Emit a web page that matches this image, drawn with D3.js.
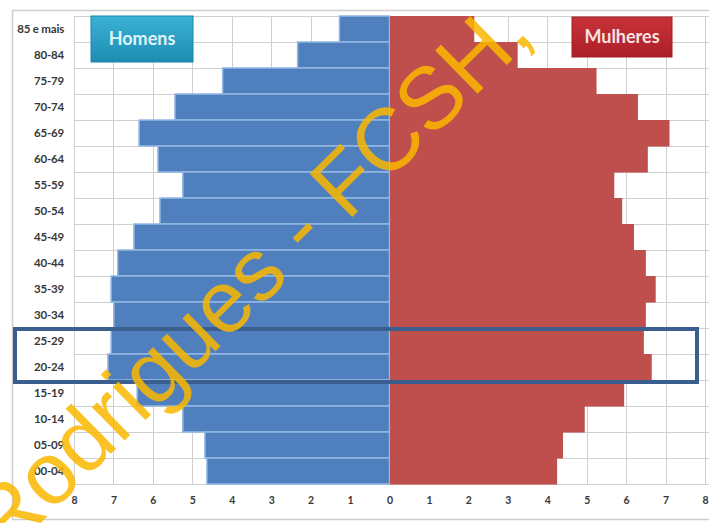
<!DOCTYPE html>
<html>
<head>
<meta charset="utf-8">
<script src="https://cdn.jsdelivr.net/npm/d3@7"></script>
<style>
  html, body { margin: 0; padding: 0; background: #ffffff; }
  svg { display: block; }
</style>
</head>
<body>
<svg id="chart" width="709" height="523"></svg>
<script>
// Age groups, from the oldest (top) to the youngest (bottom)
const ageGroups = ["85 e mais", "80-84", "75-79", "70-74", "65-69", "60-64", "55-59",
  "50-54", "45-49", "40-44", "35-39", "30-34", "25-29", "20-24", "15-19",
  "10-14", "05-09", "00-04"];

// Share of the population (%) per age group
const homens = [1.27, 2.33, 4.23, 5.44, 6.35, 5.87, 5.24, 5.82, 6.48, 6.89, 7.06,
  6.99, 7.06, 7.14, 6.4, 5.24, 4.68, 4.63];
const mulheres = [2.15, 3.25, 5.25, 6.3, 7.1, 6.55, 5.7, 5.9, 6.2, 6.5, 6.75,
  6.5, 6.45, 6.65, 5.95, 4.95, 4.4, 4.25];

// Axis ticks (men to the left, women to the right)
const tickValues = [-8, -7, -6, -5, -4, -3, -2, -1, 0, 1, 2, 3, 4, 5, 6, 7, 8];

// Groups framed by the highlight box
const highlighted = ["25-29", "20-24"];

const seriesNames = ["Homens", "Mulheres"];
const watermark = "Rodrigues - FCSH,";

const svg = d3.select("#chart");
const W = 709, H = 523;

const x = d3.scaleLinear().domain([-8, 8]).range([74, 705]);
const y = d3.scaleBand().domain(ageGroups).range([16, 484]).padding(0);

const labelFont = "Lato, 'Open Sans', 'DejaVu Sans', sans-serif";

// Outer chart frame
svg.append("rect")
  .attr("x", 12.5).attr("y", 10.5)
  .attr("width", W + 20).attr("height", 509)
  .attr("fill", "#ffffff")
  .attr("stroke", "#cdcdcd").attr("stroke-width", 1.5);

// Grid
const grid = svg.append("g").attr("stroke", "#cfcfcf").attr("stroke-width", 1);
grid.selectAll("line.v").data(tickValues).join("line")
  .attr("class", "v")
  .attr("x1", d => Math.round(x(d)) + 0.5).attr("x2", d => Math.round(x(d)) + 0.5)
  .attr("y1", y.range()[0]).attr("y2", y.range()[1]);
const bounds = ageGroups.map(g => y(g)).concat([y.range()[1]]);
grid.selectAll("line.h").data(bounds).join("line")
  .attr("class", "h")
  .attr("x1", x(-8)).attr("x2", W)
  .attr("y1", d => Math.round(d) + 0.5).attr("y2", d => Math.round(d) + 0.5);

// Bars
const rows = ageGroups.map((g, i) => ({ g, h: homens[i], m: mulheres[i] }));

svg.append("g").selectAll("rect").data(rows).join("rect")
  .attr("x", d => x(-d.h))
  .attr("y", d => y(d.g))
  .attr("width", d => x(0) - x(-d.h))
  .attr("height", y.bandwidth())
  .attr("fill", "#4f7fbd")
  .attr("stroke", "#93b8e4").attr("stroke-width", 1.5);

svg.append("g").selectAll("rect").data(rows).join("rect")
  .attr("x", x(0) + 0.5)
  .attr("y", d => y(d.g))
  .attr("width", d => x(d.m) - x(0) - 0.5)
  .attr("height", y.bandwidth() + 0.5)
  .attr("fill", "#bf4f4c");

// Age group labels
svg.append("g").selectAll("text").data(ageGroups).join("text")
  .attr("x", 64)
  .attr("y", d => y(d) + y.bandwidth() / 2 + 4)
  .attr("text-anchor", "end")
  .attr("font-family", labelFont)
  .attr("font-weight", 700)
  .attr("font-size", 11.5)
  .attr("letter-spacing", -0.2)
  .attr("fill", "#383838")
  .text(d => d);

// Bottom axis with absolute values
const axis = d3.axisBottom(x)
  .tickValues(tickValues)
  .tickFormat(d => Math.abs(d))
  .tickSize(0)
  .tickPadding(0);
const ax = svg.append("g").attr("transform", "translate(0,497)").call(axis);
ax.select(".domain").remove();
ax.selectAll("text")
  .attr("font-family", labelFont)
  .attr("font-weight", 700)
  .attr("font-size", 10.5)
  .attr("fill", "#383838")
  .attr("dy", "0.71em");

// Legend boxes
const defs = svg.append("defs");
const gBlue = defs.append("linearGradient").attr("id", "gradHomens")
  .attr("x1", 0).attr("y1", 0).attr("x2", 0).attr("y2", 1);
gBlue.append("stop").attr("offset", 0).attr("stop-color", "#3bb2d4");
gBlue.append("stop").attr("offset", 1).attr("stop-color", "#1d8cb3");
const gRed = defs.append("linearGradient").attr("id", "gradMulheres")
  .attr("x1", 0).attr("y1", 0).attr("x2", 0).attr("y2", 1);
gRed.append("stop").attr("offset", 0).attr("stop-color", "#c8323a");
gRed.append("stop").attr("offset", 1).attr("stop-color", "#ac1f27");

const legend = [
  { name: seriesNames[0], x: 91, y: 16, w: 102, h: 46, fill: "url(#gradHomens)", stroke: "#1a86ab", text: "#dff4fa" },
  { name: seriesNames[1], x: 572, y: 17, w: 100, h: 40, fill: "url(#gradMulheres)", stroke: "#a01c22", text: "#f8e2e2" }
];
const lg = svg.append("g").selectAll("g").data(legend).join("g");
lg.append("rect")
  .attr("x", d => d.x).attr("y", d => d.y)
  .attr("width", d => d.w).attr("height", d => d.h)
  .attr("fill", d => d.fill)
  .attr("stroke", d => d.stroke).attr("stroke-width", 1);
lg.append("text")
  .attr("x", d => d.x + d.w / 2)
  .attr("y", d => d.y + d.h / 2 + 6)
  .attr("text-anchor", "middle")
  .attr("font-family", labelFont)
  .attr("font-weight", 700)
  .attr("font-size", 18)
  .attr("fill", d => d.text)
  .text(d => d.name);

// Highlight box around the selected age groups
const hTop = y(highlighted[0]);
const hBottom = y(highlighted[highlighted.length - 1]) + y.bandwidth();
svg.append("rect")
  .attr("x", 15).attr("y", hTop + 1)
  .attr("width", 682).attr("height", hBottom - hTop + 1)
  .attr("fill", "none")
  .attr("stroke", "#3a5e8e").attr("stroke-width", 4);

// Diagonal credit text across the chart
const wm = svg.append("text")
  .attr("font-family", "'Liberation Sans', Arial, sans-serif")
  .attr("font-size", 88)
  .attr("fill", "#fbb800")
  .attr("opacity", 0.85)
  .text(watermark);
const angle = -44.5;
const rad = angle * Math.PI / 180;
const anchorOffset = wm.node().getSubStringLength(0, watermark.indexOf("F"));
const ax0 = 347, ay0 = 222;
const tx = ax0 - anchorOffset * Math.cos(rad);
const ty = ay0 - anchorOffset * Math.sin(rad);
wm.attr("transform", `translate(${tx},${ty}) rotate(${angle})`);
</script>
</body>
</html>
